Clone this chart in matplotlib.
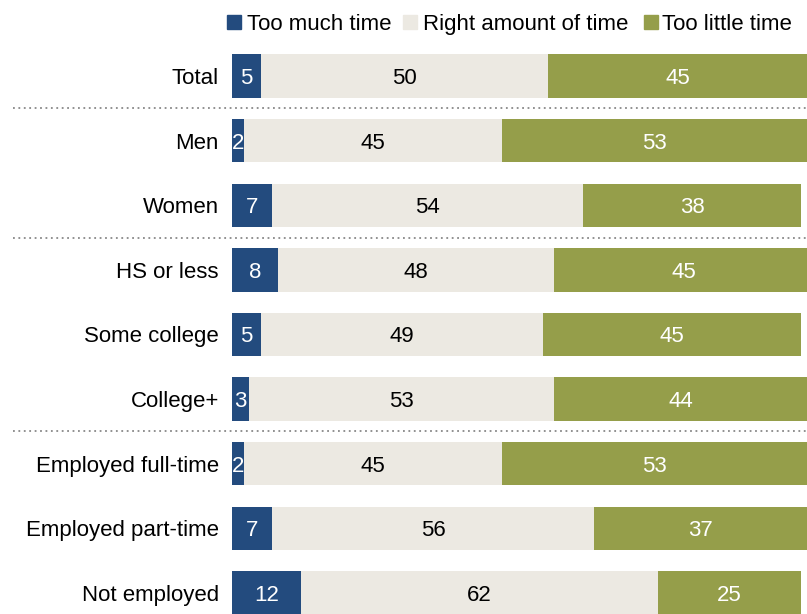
import numpy as np
import matplotlib.pyplot as plt

plt.rcParams['font.family'] = ['Liberation Sans', 'DejaVu Sans']

groups = ["Total", "Men", "Women", "HS or less", "Some college", "College+",
          "Employed full-time", "Employed part-time", "Not employed"]
too_much = [5, 2, 7, 8, 5, 3, 2, 7, 12]
right_amount = [50, 45, 54, 48, 49, 53, 45, 56, 62]
too_little = [45, 53, 38, 45, 45, 44, 53, 37, 25]
series_names = ["Too much time", "Right amount of time", "Too little time"]

colors = ["#234b7e", "#ece9e2", "#959e4a"]
txt_colors = ["white", "black", "white"]
fs = 16

fig = plt.figure(figsize=(8.07, 6.14), dpi=100)
ax = fig.add_axes([232/807, 0, 575/807, 1])

y = np.arange(len(groups))
left = np.zeros(len(groups))
for vals, c, tc in zip([too_much, right_amount, too_little], colors, txt_colors):
    vals = np.array(vals)
    ax.barh(y, vals, left=left, height=0.67, color=c, edgecolor='none')
    for yi, l, v in zip(y, left, vals):
        ax.text(l + v/2, yi, str(v), ha='center', va='center_baseline',
                fontsize=fs, color=tc)
    left += vals

ax.set_xlim(0, 100)
ax.set_ylim(8.325, -1.176)
ax.axis('off')

for yi, g in zip(y, groups):
    ax.text(-2.3, yi, g, ha='right', va='center_baseline', fontsize=fs, color='black')

# dotted separators
for sep in [0.5, 2.5, 5.5]:
    ax.plot([-38.1, 100], [sep, sep], linestyle=(0, (1, 2)), color='#888888',
            linewidth=1.3, clip_on=False)

# legend
leg_y = -0.836
sq_x = [0.43, 31.0, 72.9]
tx_x = [2.6, 33.2, 74.8]
for sx, tx, c, name in zip(sq_x, tx_x, colors, series_names):
    ax.plot(sx, leg_y, marker='s', markersize=9.4, color=c, clip_on=False)
    ax.text(tx, leg_y, name, ha='left', va='center_baseline', fontsize=fs, color='black')

fig.savefig("out.png", dpi=100)
